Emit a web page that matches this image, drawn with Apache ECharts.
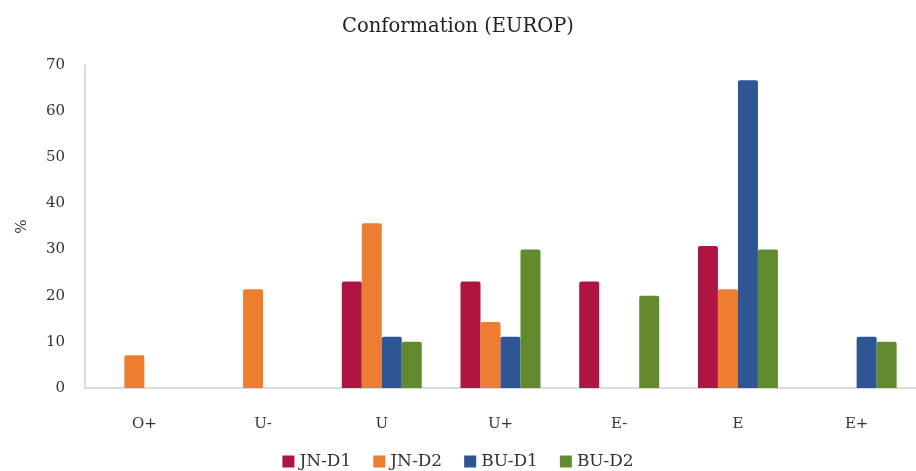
<!DOCTYPE html>
<html><head><meta charset="utf-8">
<script src="https://cdn.jsdelivr.net/npm/echarts@6/dist/echarts.min.js"></script>
<style>html,body{margin:0;padding:0;background:#fff}#c{width:916px;height:471px}</style>
</head><body><div id="c"></div>
<script>
const categories = ['O+', 'U-', 'U', 'U+', 'E-', 'E', 'E+'];
const jnD1 = [0, 0, 23.1, 23.1, 23.1, 30.8, 0];
const jnD2 = [7.1, 21.4, 35.7, 14.3, 0, 21.4, 0];
const buD1 = [0, 0, 11.1, 11.1, 0, 66.7, 11.1];
const buD2 = [0, 0, 10, 30, 20, 30, 10];
const yTicks = [0, 10, 20, 30, 40, 50, 60, 70];

const font = '"DejaVu Serif", "Liberation Serif", serif';
const chart = echarts.init(document.getElementById('c'));
function s(name, data, color) {
  return { name, type: 'bar', data: data.map(v => v === 0 ? null : v), barWidth: 20, barGap: '0%',
    itemStyle: { color, borderRadius: [2, 2, 0, 0] } };
}
chart.setOption({
  animation: false,
  title: { text: 'Conformation (EUROP)', left: 'center', top: 12,
    textStyle: { fontFamily: font, fontSize: 19.5, fontWeight: 'normal', color: '#222' } },
  legend: { top: 448, left: 'center', itemWidth: 12, itemHeight: 12, itemGap: 22, icon: 'rect',
    textStyle: { fontFamily: font, fontSize: 17, color: '#333' } },
  grid: { left: 85, top: 65, width: 836, height: 323 },
  xAxis: { type: 'category', data: categories,
    axisLine: { lineStyle: { color: '#d0d0d0', width: 1.5 } }, axisTick: { show: false },
    axisLabel: { margin: 29, fontFamily: font, fontSize: 15, color: '#333' } },
  yAxis: { type: 'value', min: 0, max: 70, interval: 10, name: '%', nameLocation: 'middle', nameGap: 55,
    nameTextStyle: { fontFamily: font, fontSize: 15, color: '#333' },
    axisLine: { show: true, lineStyle: { color: '#d0d0d0', width: 1.5 } }, axisTick: { show: false },
    splitLine: { show: false },
    axisLabel: { margin: 20, fontFamily: font, fontSize: 15, color: '#333',
      formatter: v => yTicks.includes(v) ? String(v) : '' } },
  series: [s('JN-D1', jnD1, '#AE1540'), s('JN-D2', jnD2, '#ED7D31'), s('BU-D1', buD1, '#2E5594'), s('BU-D2', buD2, '#618A2F')]
});
</script></body></html>
